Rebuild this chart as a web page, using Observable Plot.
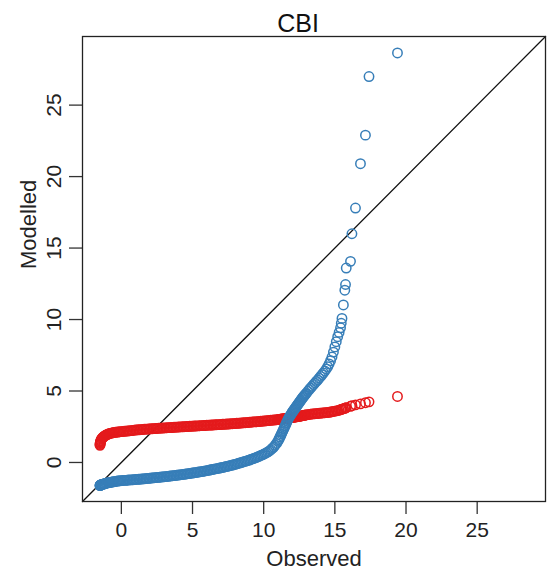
<!DOCTYPE html>
<html>
<head>
<meta charset="utf-8">
<script src="https://cdn.jsdelivr.net/npm/d3@7"></script>
<script src="https://cdn.jsdelivr.net/npm/@observablehq/plot@0.6"></script>
<style>
  body { margin: 0; background: #fff; }
</style>
</head>
<body>
<div id="chart"></div>
<script>
// Sorted observed CBI values (shared by both models)
const observed = [
  -1.5, -1.5, -1.49, -1.48, -1.47, -1.45, -1.43, -1.4, -1.37, -1.33,
  -1.29, -1.25, -1.2, -1.15, -1.1, -1.05, -1.0, -0.93, -0.86, -0.79,
  -0.72, -0.65, -0.58, -0.5, -0.42, -0.34, -0.26, -0.18, -0.1, 0.0,
  0.1, 0.2, 0.3, 0.4, 0.5, 0.6, 0.7, 0.8, 0.9, 1.0,
  1.1, 1.2, 1.3, 1.4, 1.5, 1.6, 1.7, 1.8, 1.9, 2.0,
  2.1, 2.2, 2.3, 2.4, 2.5, 2.6, 2.7, 2.8, 2.9, 3.0,
  3.1, 3.2, 3.3, 3.4, 3.5, 3.6, 3.7, 3.8, 3.9, 4.0,
  4.1, 4.2, 4.3, 4.4, 4.5, 4.6, 4.7, 4.8, 4.9, 5.0,
  5.1, 5.2, 5.3, 5.4, 5.5, 5.6, 5.7, 5.8, 5.9, 6.0,
  6.1, 6.2, 6.3, 6.4, 6.5, 6.6, 6.7, 6.8, 6.9, 7.0,
  7.1, 7.2, 7.3, 7.4, 7.5, 7.6, 7.7, 7.8, 7.9, 8.0,
  8.1, 8.2, 8.3, 8.4, 8.5, 8.6, 8.7, 8.8, 8.9, 9.0,
  9.1, 9.2, 9.3, 9.4, 9.5, 9.6, 9.7, 9.8, 9.9, 10.0,
  10.1, 10.2, 10.3, 10.4, 10.5, 10.6, 10.7, 10.8, 10.9, 11.0,
  11.05, 11.1, 11.15, 11.2, 11.25, 11.3, 11.35, 11.4, 11.45, 11.5,
  11.55, 11.6, 11.65, 11.7, 11.75, 11.8, 11.85, 11.9, 11.95, 12.0,
  12.05, 12.1, 12.15, 12.2, 12.25, 12.3, 12.35, 12.4, 12.45, 12.5,
  12.55, 12.6, 12.65, 12.7, 12.75, 12.8, 12.85, 12.9, 12.95, 13.0,
  13.1, 13.2, 13.3, 13.4, 13.5, 13.6, 13.7, 13.8, 13.9, 14.0,
  14.1, 14.2, 14.3, 14.4, 14.5,
  14.6, 14.7, 14.8, 14.9, 15.0, 15.1, 15.2, 15.3, 15.4, 15.45,
  15.5, 15.6, 15.7, 15.75, 15.8, 16.1, 16.2, 16.45, 16.8, 17.15,
  17.4, 19.4
];

// Sorted modelled values, red model
const modelledRed = [
  1.2, 1.26, 1.32, 1.38, 1.44, 1.5, 1.56, 1.62, 1.67, 1.72,
  1.76, 1.8, 1.84, 1.87, 1.9, 1.93, 1.96, 1.99, 2.01, 2.03,
  2.05, 2.07, 2.08, 2.1, 2.11, 2.12, 2.13, 2.14, 2.15, 2.16,
  2.17, 2.18, 2.19, 2.2, 2.21, 2.22, 2.23, 2.24, 2.26, 2.27,
  2.28, 2.29, 2.29, 2.3, 2.31, 2.32, 2.33, 2.33, 2.34, 2.35,
  2.36, 2.36, 2.37, 2.38, 2.38, 2.39, 2.4, 2.4, 2.41, 2.42,
  2.42, 2.43, 2.44, 2.44, 2.45, 2.45, 2.46, 2.47, 2.47, 2.48,
  2.49, 2.49, 2.5, 2.5, 2.51, 2.52, 2.52, 2.53, 2.53, 2.54,
  2.55, 2.55, 2.56, 2.56, 2.57, 2.58, 2.58, 2.59, 2.59, 2.6,
  2.61, 2.61, 2.62, 2.62, 2.63, 2.64, 2.64, 2.65, 2.65, 2.66,
  2.67, 2.67, 2.68, 2.69, 2.69, 2.7, 2.71, 2.71, 2.72, 2.73,
  2.74, 2.74, 2.75, 2.76, 2.77, 2.78, 2.78, 2.79, 2.8, 2.81,
  2.82, 2.83, 2.84, 2.84, 2.85, 2.86, 2.87, 2.88, 2.89, 2.9,
  2.91, 2.92, 2.93, 2.94, 2.95, 2.96, 2.97, 2.98, 2.99, 3.0,
  3.01, 3.01, 3.02, 3.03, 3.04, 3.04, 3.05, 3.06, 3.07, 3.07,
  3.08, 3.09, 3.1, 3.1, 3.11, 3.12, 3.13, 3.13, 3.14, 3.15,
  3.16, 3.16, 3.17, 3.18, 3.19, 3.2, 3.2, 3.21, 3.22, 3.23,
  3.24, 3.25, 3.26, 3.27, 3.28, 3.29, 3.3, 3.31, 3.32, 3.33,
  3.35, 3.36, 3.38, 3.39, 3.4, 3.41, 3.42, 3.43, 3.44, 3.45,
  3.46, 3.47, 3.48, 3.49, 3.5,
  3.51, 3.53, 3.55, 3.57, 3.59, 3.61, 3.63, 3.66, 3.69, 3.71,
  3.73, 3.76, 3.79, 3.81, 3.83, 3.93, 3.97, 4.03, 4.1, 4.18,
  4.24, 4.62
];

// Sorted modelled values, blue model
const modelledBlue = [
  -1.62, -1.61, -1.6, -1.59, -1.58, -1.57, -1.56, -1.55, -1.54, -1.53,
  -1.52, -1.51, -1.49, -1.48, -1.46, -1.45, -1.43, -1.42, -1.41, -1.39,
  -1.38, -1.37, -1.35, -1.34, -1.33, -1.31, -1.3, -1.29, -1.28, -1.27,
  -1.26, -1.25, -1.25, -1.24, -1.23, -1.22, -1.22, -1.21, -1.2, -1.19,
  -1.18, -1.17, -1.17, -1.16, -1.15, -1.14, -1.13, -1.12, -1.11, -1.1,
  -1.09, -1.08, -1.07, -1.06, -1.05, -1.04, -1.03, -1.02, -1.01, -1.0,
  -0.99, -0.98, -0.97, -0.95, -0.94, -0.93, -0.92, -0.9, -0.89, -0.88,
  -0.87, -0.85, -0.84, -0.83, -0.81, -0.8, -0.78, -0.77, -0.75, -0.74,
  -0.72, -0.71, -0.69, -0.67, -0.66, -0.64, -0.62, -0.61, -0.59, -0.57,
  -0.55, -0.53, -0.51, -0.49, -0.47, -0.45, -0.43, -0.41, -0.39, -0.37,
  -0.35, -0.33, -0.3, -0.28, -0.26, -0.23, -0.21, -0.18, -0.16, -0.13,
  -0.1, -0.07, -0.04, -0.01, 0.02, 0.05, 0.08, 0.11, 0.14, 0.17,
  0.21, 0.25, 0.28, 0.32, 0.36, 0.4, 0.44, 0.49, 0.53, 0.58,
  0.63, 0.68, 0.74, 0.81, 0.89, 0.98, 1.08, 1.2, 1.33, 1.48,
  1.58, 1.68, 1.79, 1.89, 2.0, 2.11, 2.22, 2.33, 2.44, 2.55,
  2.66, 2.77, 2.88, 2.99, 3.09, 3.18, 3.26, 3.34, 3.42, 3.5,
  3.57, 3.64, 3.71, 3.78, 3.85, 3.92, 3.99, 4.06, 4.13, 4.2,
  4.27, 4.34, 4.41, 4.48, 4.55, 4.61, 4.67, 4.73, 4.79, 4.85,
  4.98, 5.1, 5.22, 5.33, 5.45, 5.56, 5.67, 5.78, 5.9, 6.02,
  6.14, 6.27, 6.4, 6.54, 6.7,
  6.9, 7.12, 7.38, 7.72, 8.08, 8.45, 8.8, 9.1, 9.42, 9.74,
  10.08, 11.02, 12.05, 12.45, 13.6, 14.07, 16.0, 17.8, 20.9, 22.9,
  27.0, 28.65
];

const tickValues = [0, 5, 10, 15, 20, 25];
const axisLimits = [-2.73, 29.8];
const titleText = "CBI";
const xLabel = "Observed";
const yLabel = "Modelled";
const redColor = "#E41A1C";
const blueColor = "#377EB8";

const rows = (values) => observed.map((o, i) => ({observed: o, modelled: values[i]}));

const chart = Plot.plot({
  width: 551,
  height: 570,
  marginLeft: 82,
  marginRight: 6,
  marginTop: 36,
  marginBottom: 69,
  style: {
    fontFamily: "'Liberation Sans', Arial, Helvetica, sans-serif",
    background: "#fff",
    color: "#222"
  },
  x: {domain: axisLimits},
  y: {domain: axisLimits},
  marks: [
    Plot.axisX(tickValues, {tickSize: 13, tickPadding: 8, fontSize: 21, label: null, stroke: "#333", strokeWidth: 1.3}),
    Plot.axisY(tickValues, {tickSize: 13, tickPadding: 9, tickRotate: -90, fontSize: 21, label: null, stroke: "#333", strokeWidth: 1.3}),
    // 1:1 reference line
    Plot.line(axisLimits, {x: d => d, y: d => d, stroke: "#111", strokeWidth: 1.3}),
    Plot.dot(rows(modelledRed), {x: "observed", y: "modelled", r: 4.7, stroke: redColor, strokeWidth: 1.5, fill: "none"}),
    Plot.dot(rows(modelledBlue), {x: "observed", y: "modelled", r: 4.7, stroke: blueColor, strokeWidth: 1.5, fill: "none"}),
    Plot.frame({stroke: "#222", strokeWidth: 1.3}),
    Plot.text([titleText], {frameAnchor: "top", dx: -16, dy: -5, lineAnchor: "bottom", fontSize: 25, fill: "#111"}),
    Plot.text([xLabel], {frameAnchor: "bottom", dy: 64, lineAnchor: "bottom", fontSize: 22, fill: "#222"}),
    Plot.text([yLabel], {frameAnchor: "left", dx: -54, rotate: -90, lineAnchor: "middle", fontSize: 22, fill: "#222"})
  ]
});

document.getElementById("chart").appendChild(chart);
</script>
</body>
</html>
